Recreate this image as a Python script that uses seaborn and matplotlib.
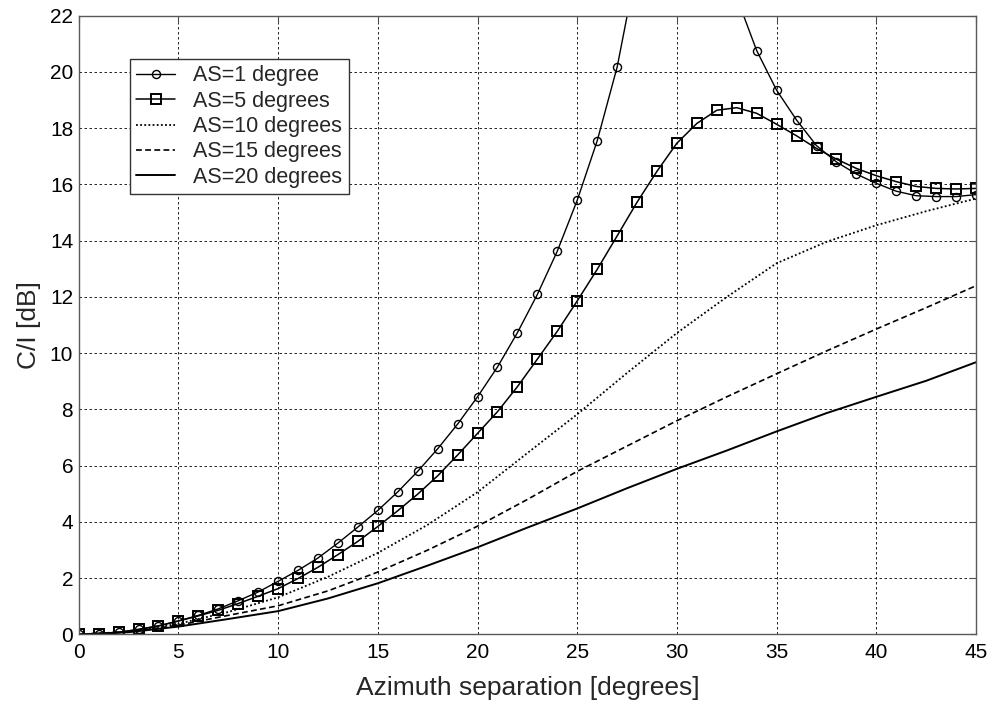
import numpy as np
import pandas as pd
import matplotlib
matplotlib.use("Agg")
import matplotlib.pyplot as plt
import seaborn as sns

# ---- data ----
x_marked = list(range(0, 46))
as1 = [0, 0.02, 0.08, 0.18, 0.31, 0.48, 0.68, 0.91, 1.2, 1.51, 1.89, 2.28, 2.72, 3.25,
       3.82, 4.41, 5.07, 5.8, 6.6, 7.48, 8.45, 9.51, 10.73, 12.09, 13.63, 15.44, 17.55,
       20.17, 23.8, 26.5, 28.5, 27.0, 24.5, 22.65, 20.76, 19.35, 18.29, 17.38, 16.8,
       16.37, 16.04, 15.76, 15.6, 15.57, 15.57, 15.64]
as5 = [0, 0.02, 0.07, 0.18, 0.3, 0.48, 0.66, 0.86, 1.1, 1.36, 1.63, 1.99, 2.39, 2.84,
       3.31, 3.84, 4.4, 4.99, 5.64, 6.38, 7.15, 7.92, 8.81, 9.79, 10.78, 11.86, 12.98,
       14.17, 15.37, 16.47, 17.47, 18.17, 18.64, 18.73, 18.53, 18.14, 17.73, 17.28,
       16.9, 16.57, 16.31, 16.1, 15.93, 15.86, 15.84, 15.86]
x_smooth = [0, 2.5, 5, 7.5, 10, 12.5, 15, 17.5, 20, 22.5, 25, 27.5, 30, 32.5, 35, 37.5,
            40, 42.5, 45]
as10 = [0, 0.1, 0.38, 0.8, 1.32, 2.05, 2.9, 3.9, 5.06, 6.45, 7.83, 9.3, 10.72, 12.0,
        13.2, 13.96, 14.55, 15.05, 15.5]
as15 = [0, 0.09, 0.33, 0.68, 1.02, 1.55, 2.22, 3.0, 3.85, 4.8, 5.8, 6.7, 7.6, 8.45,
        9.27, 10.08, 10.86, 11.62, 12.4]
as20 = [0, 0.08, 0.28, 0.55, 0.83, 1.28, 1.82, 2.45, 3.1, 3.8, 4.48, 5.2, 5.89, 6.54,
        7.22, 7.87, 8.45, 9.02, 9.68]
labels = ["AS=1 degree", "AS=5 degrees", "AS=10 degrees", "AS=15 degrees",
          "AS=20 degrees"]
x_ticks = list(range(0, 46, 5))
y_ticks = list(range(0, 23, 2))

sns.set_style("white")
plt.rcParams["font.family"] = ["Liberation Sans", "DejaVu Sans"]

fig = plt.figure(figsize=(9.89, 7.02), dpi=100)
ax = fig.add_axes([0.0796, 0.0962, 0.9073, 0.8814])

df1 = pd.DataFrame({"x": x_marked, "y": as1})
df5 = pd.DataFrame({"x": x_marked, "y": as5})
df10 = pd.DataFrame({"x": x_smooth, "y": as10})
df15 = pd.DataFrame({"x": x_smooth, "y": as15})
df20 = pd.DataFrame({"x": x_smooth, "y": as20})

sns.lineplot(data=df1, x="x", y="y", ax=ax, color="black", lw=1.0, marker="o",
             markersize=5.8, markerfacecolor="none", markeredgecolor="black",
             markeredgewidth=1.0, label=labels[0])
sns.lineplot(data=df5, x="x", y="y", ax=ax, color="black", lw=1.1, marker="s",
             markersize=6.5, markerfacecolor="none", markeredgecolor="black",
             markeredgewidth=1.4, label=labels[1])
sns.lineplot(data=df10, x="x", y="y", ax=ax, color="black", lw=1.3,
             linestyle=(0, (1, 1.3)), label=labels[2])
sns.lineplot(data=df15, x="x", y="y", ax=ax, color="black", lw=1.2,
             linestyle=(0, (3.5, 2)), label=labels[3])
sns.lineplot(data=df20, x="x", y="y", ax=ax, color="black", lw=1.4,
             linestyle="-", label=labels[4])

ax.set_xlim(0, 45)
ax.set_ylim(0, 22)
ax.set_xticks(x_ticks)
ax.set_yticks(y_ticks)
ax.grid(True, color="black", linestyle=(0, (3, 3)), linewidth=0.6)
ax.tick_params(direction="in", length=5, width=0.8, labelsize=15, colors="0.3",
               labelcolor="black", top=True, right=True)
ax.tick_params(axis="x", pad=6)
ax.tick_params(axis="y", pad=4)
for s in ax.spines.values():
    s.set_color("0.35")
    s.set_linewidth(1.0)
ax.set_xlabel("Azimuth separation [degrees]", fontsize=19, labelpad=10)
ax.set_ylabel("C/I [dB]", fontsize=19, labelpad=6)

leg = ax.legend(loc="upper left", bbox_to_anchor=(0.057, 0.930), borderaxespad=0,
                fontsize=15.5, frameon=True, fancybox=False, handlelength=1.8,
                handletextpad=0.85, labelspacing=0.2, borderpad=0.3)
leg.get_frame().set_edgecolor("0.2")
leg.get_frame().set_linewidth(1.0)
leg.get_frame().set_alpha(1.0)

fig.savefig("out.png", dpi=100)
